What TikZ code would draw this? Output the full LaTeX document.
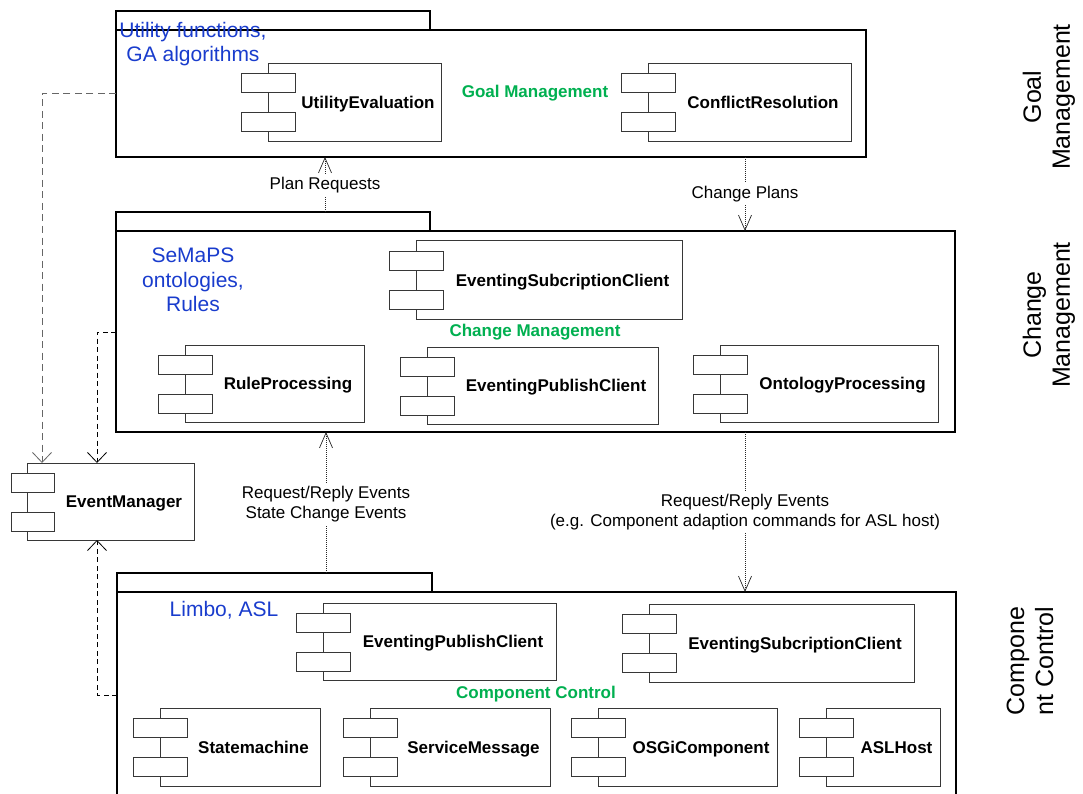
\documentclass[tikz,border=0pt]{standalone}
\usepackage{fontspec}
\setmainfont{Liberation Sans}
\usetikzlibrary{arrows.meta}

\definecolor{notecolor}{RGB}{25,60,205}
\definecolor{pkgname}{RGB}{0,176,80}
\definecolor{compline}{RGB}{55,55,55}

\tikzset{
  pkg/.style={draw=black, line width=1.3pt, fill=white, rectangle, inner sep=0pt, outer sep=0pt, anchor=north west},
  compbox/.style={draw=compline, line width=1pt, fill=white, rectangle, inner sep=0pt, outer sep=0pt, anchor=north west},
  complabel/.style={font=\bfseries\fontsize{17}{20}\selectfont, anchor=base, inner sep=0pt},
  pkglabel/.style={font=\bfseries\fontsize{17}{20}\selectfont, text=pkgname, inner sep=0pt},
  note/.style={font=\fontsize{21}{24.5}\selectfont, text=notecolor, align=center, inner sep=0pt},
  flowlabel/.style={font=\fontsize{17}{20.5}\selectfont, align=center, inner sep=3pt},
  layerlabel/.style={font=\fontsize{25}{29}\selectfont, align=center, rotate=90, inner sep=0pt},
  flow/.style={draw=black!85, line width=0.7pt, dash pattern=on 1pt off 1pt},
  flowtip/.style={-{Straight Barb[length=15pt,width=13pt,line width=0.7pt]}},
  dep/.style={draw=black, line width=0.8pt, dash pattern=on 5pt off 3.5pt,
              -{Straight Barb[length=10pt,width=19pt,line width=0.8pt]}},
  depgray/.style={dep, draw=black!60, dash pattern=on 7pt off 4.5pt},
}

% UML component: [port overhang]{name}{left}{top}{right}{bottom}{label}
\newcommand\umlcomp[7][27]{%
  \node[compbox, minimum width={#5-#3}, minimum height={#6-#4}] (#2) at (#3,#4) {};
  \node[compbox, minimum width={#1+27}, minimum height=19] (#2-p1) at ({#3-#1},{#4+10}) {};
  \node[compbox, minimum width={#1+27}, minimum height=19] (#2-p2) at ({#3-#1},{#4+49}) {};
  \node[complabel] (#2-t) at ({(#3+27+#5)/2},{(#4+#6)/2+6}) {#7};
}

\begin{document}
\begin{tikzpicture}[x=1pt,y=-1pt]
\clip (0,0) rectangle (1083,794);
\fill[white] (0,0) rectangle (1083,794);

% ---- Goal Management package
\node[pkg, minimum width=314, minimum height=19] (goaltab) at (116,11) {};
\node[pkg, minimum width=750, minimum height=127] (goalbody) at (116,30) {};
\node[note] (goalnote) at (193,44) {Utility functions,\\GA algorithms};
\node[pkglabel] (goalname) at (535,93) {Goal Management};
\umlcomp{utileval}{268}{64}{441}{142}{UtilityEvaluation}
\umlcomp{conflict}{648}{64}{851}{142}{ConflictResolution}

% ---- Change Management package
\node[pkg, minimum width=314, minimum height=19] (changetab) at (116,212) {};
\node[pkg, minimum width=839, minimum height=201] (changebody) at (116,231) {};
\node[note] (changenote) at (193,280) {SeMaPS\\ontologies,\\Rules};
\node[pkglabel] (changename) at (535,332) {Change Management};
\umlcomp{subclientA}{416}{241}{682}{319}{EventingSubcriptionClient}
\umlcomp{ruleproc}{185}{345}{364}{422}{RuleProcessing}
\umlcomp{pubclientA}{427}{347}{658}{424}{EventingPublishClient}
\umlcomp{ontoproc}{720}{345}{938}{422}{OntologyProcessing}

% ---- Component Control package
\node[pkg, minimum width=315, minimum height=19] (comptab) at (117,573) {};
\node[pkg, minimum width=839, minimum height=220] (compbody) at (117,592) {};
\node[note] (compnote) at (224,610) {Limbo, ASL};
\node[pkglabel] (compname) at (536,694) {Component Control};
\umlcomp{pubclientB}{323}{603}{556}{680}{EventingPublishClient}
\umlcomp{subclientB}{649}{604}{914}{682}{EventingSubcriptionClient}
\umlcomp{statem}{160}{708}{320}{786}{Statemachine}
\umlcomp{servmsg}{370}{708}{550}{786}{ServiceMessage}
\umlcomp{osgi}{598}{708}{777}{786}{OSGiComponent}
\umlcomp{aslhost}{826}{708}{940}{786}{ASLHost}

% ---- Event manager
\umlcomp[16]{evman}{27}{463}{194}{540}{EventManager}

% ---- Message flows between layers
\coordinate (planx) at (325,0);
\coordinate (chgx) at (745,0);
\coordinate (upx) at (326,0);
\coordinate (downx) at (745,0);

\node[flowlabel] (planlbl) at (325,185) {Plan Requests};
\draw[flow] (changetab.north -| planx) -- (planlbl);
\draw[flow, flowtip] (planlbl) -- (goalbody.south -| planx);

\node[flowlabel] (chglbl) at (745,194) {Change Plans};
\draw[flow] (goalbody.south -| chgx) -- (chglbl);
\draw[flow, flowtip] (chglbl) -- (changebody.north -| chgx);

\node[flowlabel] (uplbl) at (326,504) {Request/Reply Events\\State Change Events};
\draw[flow] (comptab.north -| upx) -- (uplbl);
\draw[flow, flowtip] (uplbl) -- (changebody.south -| upx);

\node[flowlabel] (downlbl) at (745,512) {Request/Reply Events\\(e.g. Component adaption commands for ASL host)};
\draw[flow] (changebody.south -| downx) -- (downlbl);
\draw[flow, flowtip] (downlbl) -- (compbody.north -| downx);

% ---- Dependencies on the event manager
\coordinate (depA) at (42,93);
\coordinate (depB) at (97,332);
\coordinate (depC) at (97,695);
\draw[depgray] (goalbody.west |- depA) -| (evman.north -| depA);
\draw[dep] (changebody.west |- depB) -| (evman.north -| depB);
\draw[dep] (compbody.west |- depC) -| (evman.south -| depC);

% ---- Layer names
\node[layerlabel] (lyrgoal) at (1049,97) {Goal\\Management};
\node[layerlabel] (lyrchange) at (1049,315) {Change\\Management};
\node[layerlabel] (lyrcomp) at (1030,661) {Compone\\nt Control};
\end{tikzpicture}
\end{document}
